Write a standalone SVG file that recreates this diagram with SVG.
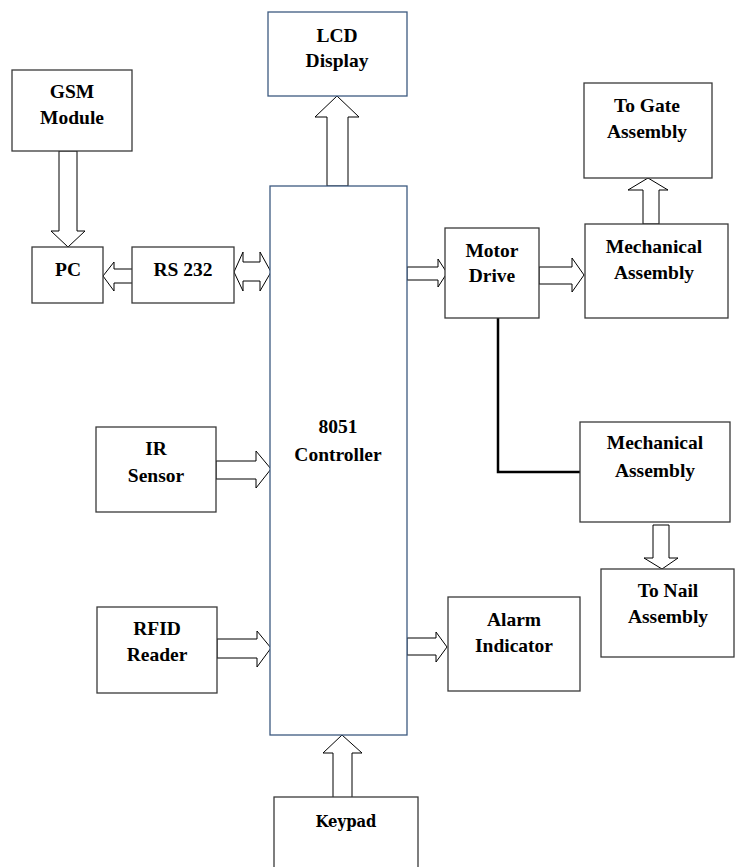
<svg xmlns="http://www.w3.org/2000/svg" width="738" height="867" viewBox="0 0 738 867">
<style>
.box{fill:#fff;stroke:#3a3a3a;stroke-width:1.3}
.blue{fill:#fff;stroke:#3d5a80;stroke-width:1.3}
.arr{fill:#fff;stroke:#000;stroke-width:1}
text{font-family:'Liberation Serif',Tinos,'Times New Roman','DejaVu Serif',serif;font-weight:bold;font-size:19.5px;text-anchor:middle;fill:#000}
text.k{font-family:'DejaVu Serif',serif;font-size:17px}
.wire{fill:none;stroke:#000;stroke-width:2.5}
</style>
<rect width="738" height="867" fill="#fff"/>
<g id="connectors">
<polygon class="arr" points="59,151 77,151 77,231 85,231 68,247 51,231 59,231"/>
<polygon class="arr" points="103,276 114,262 114,269 133,269 133,283 114,283 114,291"/>
<polygon class="arr" points="234,272 243,252 243,262 260,262 260,252 271,272 260,291 260,281 243,281 243,291"/>
<polygon class="arr" points="327,186 327,117 315,117 337,96 359,117 348,117 348,186"/>
<polygon class="arr" points="407,267 438,267 438,259 447,273 438,287 438,280 407,280"/>
<polygon class="arr" points="539,267 572,267 572,258 584,275 572,292 572,284 539,284"/>
<polygon class="arr" points="643,224 643,190 628,190 648,178 668,190 659,190 659,224"/>
<path class="wire" d="M498 318 V472 H584"/>
<polygon class="arr" points="653,525 669,525 669,558 678,558 662,569 644,558 653,558"/>
<polygon class="arr" points="216,461 256,461 256,451 271,469 256,488 256,479 216,479"/>
<polygon class="arr" points="217,639 257,639 257,631 271,648 257,667 257,658 217,658"/>
<polygon class="arr" points="407,638 436,638 436,632 447,647 436,662 436,655 407,655"/>
<polygon class="arr" points="333,798 333,753 323,753 342,735 362,753 352,753 352,798"/>
</g>
<g id="lcd"><rect class="blue" x="268" y="12" width="139" height="84"/><text x="337" y="42">LCD</text><text x="337" y="67">Display</text></g>
<g id="gsm"><rect class="box" x="12" y="70" width="120" height="81"/><text x="72" y="98">GSM</text><text x="72" y="124">Module</text></g>
<g id="pc"><rect class="box" x="32" y="247" width="71" height="56"/><text x="68" y="276">PC</text></g>
<g id="rs232"><rect class="box" x="132" y="247" width="102" height="56"/><text x="183" y="276">RS 232</text></g>
<g id="controller"><rect class="blue" x="270" y="186" width="137" height="549"/><text x="338" y="433">8051</text><text x="338" y="461">Controller</text></g>
<g id="motor"><rect class="box" x="445" y="228" width="94" height="90"/><text x="492" y="257">Motor</text><text x="492" y="282">Drive</text></g>
<g id="mech1"><rect class="box" x="585" y="224" width="143" height="94"/><text x="654" y="253">Mechanical</text><text x="654" y="279">Assembly</text></g>
<g id="gate"><rect class="box" x="584" y="83" width="128" height="95"/><text x="647" y="112">To Gate</text><text x="647" y="138">Assembly</text></g>
<g id="mech2"><rect class="box" x="580" y="422" width="150" height="100"/><text x="655" y="449">Mechanical</text><text x="655" y="477">Assembly</text></g>
<g id="nail"><rect class="box" x="601" y="569" width="133" height="88"/><text x="668" y="597">To Nail</text><text x="668" y="623">Assembly</text></g>
<g id="ir"><rect class="box" x="96" y="427" width="120" height="85"/><text x="156" y="455">IR</text><text x="156" y="482">Sensor</text></g>
<g id="rfid"><rect class="box" x="97" y="607" width="120" height="86"/><text x="157" y="635">RFID</text><text x="157" y="661">Reader</text></g>
<g id="alarm"><rect class="box" x="448" y="597" width="132" height="94"/><text x="514" y="626">Alarm</text><text x="514" y="652">Indicator</text></g>
<g id="keypad"><rect class="box" x="274" y="797" width="144" height="80"/><text class="k" x="346" y="827" textLength="61" lengthAdjust="spacingAndGlyphs">Keypad</text></g>
</svg>
